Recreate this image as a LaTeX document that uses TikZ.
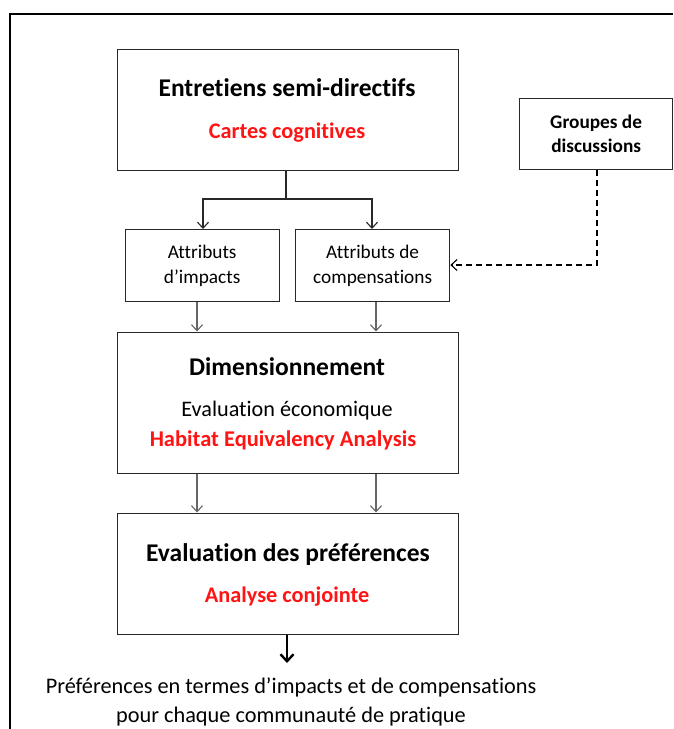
\documentclass[tikz,border=0pt]{standalone}
\usepackage{fontspec}
\setmainfont{Carlito}[Ligatures=NoCommon]
\usetikzlibrary{arrows.meta}
\definecolor{boxline}{RGB}{40,40,40}
\definecolor{redtxt}{RGB}{255,20,20}
\tikzset{
  x=1pt, y=-1pt,
  bigbox/.style={draw=boxline, line width=1.3pt, minimum width=341pt, anchor=north west, inner sep=0pt},
  smallbox/.style={draw=boxline, line width=1.3pt, minimum width=154pt, minimum height=72pt, anchor=north west, inner sep=0pt, align=center, font=\fontsize{19.3}{25}\selectfont},
  txt/.style={inner sep=0pt, align=center},
  conn/.style={draw=boxline, line width=1.2pt, -{Straight Barb[length=6pt,width=11pt,line width=1.1pt]}},
  grayconn/.style={draw=gray!80!black, line width=1.2pt, -{Straight Barb[length=6pt,width=11pt,line width=1.1pt]}},
  dashconn/.style={draw=black, line width=1.2pt, dash pattern=on 6pt off 4pt, -{Straight Barb[length=6pt,width=11pt,line width=1.1pt]}},
  thickconn/.style={draw=black, line width=2.6pt, -{Straight Barb[length=7pt,width=13pt,line width=2.4pt]}},
}
\begin{document}
\begin{tikzpicture}
\useasboundingbox (0,0) rectangle (673,729);
\fill[white] (0,0) rectangle (673,729);
% outer frame
\draw[line width=2.2pt, black] (10,729) -- (10,14) -- (673,14);

% box 1
\node[bigbox, minimum height=121pt] (b1) at (116.5,48.5) {};
\node[txt, font=\fontsize{25.5}{28}\selectfont\bfseries] (t1) at (287,88) {Entretiens semi-directifs};
\node[txt, font=\fontsize{22.3}{26}\selectfont\bfseries, text=redtxt] (r1) at (287,133) {Cartes cognitives};

% groupes
\node[draw=boxline, line width=1.3pt, minimum width=153pt, minimum height=71pt, anchor=north west, inner sep=0pt, align=center, font=\fontsize{19.3}{24}\selectfont\bfseries] (g) at (519,98) {Groupes de\\discussions};

% attribut boxes
\node[smallbox] (a1) at (124.5,229) {Attributs\\d’impacts};
\node[smallbox] (a2) at (295,229) {Attributs de\\compensations};

% box 2
\node[bigbox, minimum height=141pt] (b2) at (116.5,331.5) {};
\node[txt, font=\fontsize{25.5}{28}\selectfont\bfseries] (t2) at (287,367) {Dimensionnement};
\node[txt, font=\fontsize{22.2}{26}\selectfont] (s2) at (287,411) {Evaluation économique};
\node[txt, font=\fontsize{22.5}{26}\selectfont\bfseries, text=redtxt] (r2) at (283,440) {Habitat Equivalency Analysis};

% box 3
\node[bigbox, minimum height=121pt] (b3) at (116.5,512.5) {};
\node[txt, font=\fontsize{25.5}{28}\selectfont\bfseries] (t3) at (288,555) {Evaluation des préférences};
\node[txt, font=\fontsize{22.3}{26}\selectfont\bfseries, text=redtxt] (r3) at (287,597) {Analyse conjointe};

% bottom text
\node[txt, font=\fontsize{22.3}{28.5}\selectfont] (out) at (291,702) {Préférences en termes d’impacts et de compensations\\pour chaque communauté de pratique};

% connectors
\coordinate (j) at (286,199);
\draw[draw=boxline, line width=1.2pt] (b1.south -| j) -- (j);
\draw[conn] (j) -| (a1.north -| 203,0);
\draw[conn] (j) -| (a2.north -| 372,0);
\draw[dashconn] (g.south -| 597,0) |- (a2.east |- 0,265);
\draw[grayconn] (a1.south -| 197,0) -- (b2.north -| 197,0);
\draw[grayconn] (a2.south -| 376,0) -- (b2.north -| 376,0);
\draw[grayconn] (b2.south -| 197,0) -- (b3.north -| 197,0);
\draw[grayconn] (b2.south -| 376,0) -- (b3.north -| 376,0);
\draw[thickconn] (b3.south -| 287,0) -- (287,663);
\end{tikzpicture}
\end{document}
